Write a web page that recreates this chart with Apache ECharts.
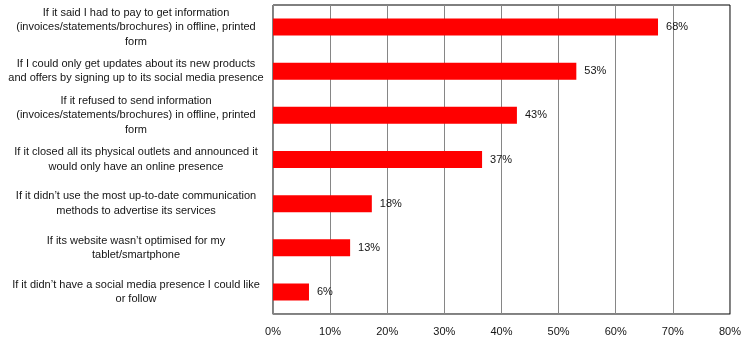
<!DOCTYPE html>
<html>
<head>
<meta charset="utf-8">
<script src="https://cdn.jsdelivr.net/npm/echarts@6/dist/echarts.min.js"></script>
<style>html,body{margin:0;padding:0;background:#fff}#c{width:744px;height:359px}</style>
</head>
<body>
<div id="c"></div>
<script>
var categories = [
  "If it said I had to pay to get information\n(invoices/statements/brochures) in offline, printed\nform",
  "If I could only get updates about its new products\nand offers by signing up to its social media presence",
  "If it refused to send information\n(invoices/statements/brochures) in offline, printed\nform",
  "If it closed all its physical outlets and announced it\nwould only have an online presence",
  "If it didn\u2019t use the most up-to-date communication\nmethods to advertise its services",
  "If its website wasn\u2019t optimised for my\ntablet/smartphone",
  "If it didn\u2019t have a social media presence I could like\nor follow"
];
var values = [67.4, 53.1, 42.7, 36.6, 17.3, 13.5, 6.3];
var valueLabels = ["68%", "53%", "43%", "37%", "18%", "13%", "6%"];
var tickMin = 0, tickMax = 80, tickStep = 10;

var FONT = "'Liberation Sans', Arial, sans-serif";
var TXT = '#141414';
var chart = echarts.init(document.getElementById('c'));
chart.setOption({
  animation: false,
  backgroundColor: '#fff',
  textStyle: { fontFamily: FONT },
  grid: { left: 273, right: 14, top: 5, bottom: 45, show: true, borderColor: '#000', borderWidth: 1, containLabel: false },
  xAxis: {
    type: 'value', min: tickMin, max: tickMax, interval: tickStep,
    axisLine: { show: true, lineStyle: { color: '#868686', width: 1 } },
    axisTick: { show: false },
    splitLine: { show: true, lineStyle: { color: '#868686', width: 1 } },
    axisLabel: { formatter: '{value}%', color: TXT, fontSize: 11, fontFamily: FONT, margin: 12 }
  },
  yAxis: {
    type: 'category', inverse: true, data: categories,
    axisLine: { show: true, lineStyle: { color: '#868686', width: 1 } },
    axisTick: { show: false },
    axisLabel: { color: TXT, fontSize: 11, fontFamily: FONT, align: 'center', margin: 137, lineHeight: 14.5, interval: 0 }
  },
  series: [{
    type: 'bar', data: values, barWidth: 17,
    itemStyle: { color: '#ff0000' },
    label: {
      show: true, position: 'right', distance: 8, color: TXT, fontSize: 11, fontFamily: FONT,
      formatter: function (p) { return valueLabels[p.dataIndex]; }
    }
  }]
});
</script>
</body>
</html>
